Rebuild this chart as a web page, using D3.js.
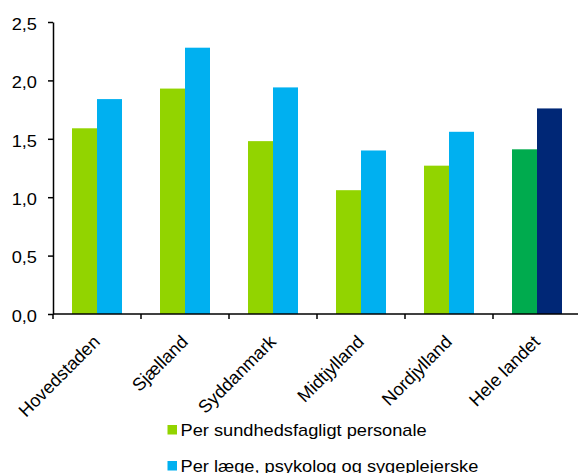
<!DOCTYPE html>
<html><head><meta charset="utf-8">
<script src="https://cdn.jsdelivr.net/npm/d3@7"></script>
<style>
body{margin:0;background:#fff;}
svg{display:block;font-family:"Liberation Sans",Arial,sans-serif;}
</style></head><body>
<svg id="c" width="578" height="473"></svg>
<script>
const categories = ["Hovedstaden","Sjælland","Syddanmark","Midtjylland","Nordjylland","Hele landet"];
const seriesNames = ["Per sundhedsfagligt personale","Per læge, psykolog og sygeplejerske"];
const sundhedsfagligt = [1.59,1.93,1.48,1.06,1.27,1.41];
const laegePsykSyg = [1.84,2.28,1.94,1.40,1.56,1.76];
const yTicks = [0,0.5,1.0,1.5,2.0,2.5];

const colA = "#92D400", colB = "#00B0F0", colAtot = "#00AB4E", colBtot = "#002776";
const SX = 1.14; // horizontal stretch of text in the reference
const FS = 16;

const svg = d3.select("#c");
const m = {left:53, top:22, bottom:314, right:581};
const x = d3.scaleBand().domain(categories).range([m.left, m.right]).paddingInner(0).paddingOuter(0);
const y = d3.scaleLinear().domain([0,2.5]).range([m.bottom, m.top]);

// bars
const barW = 25;
const gap = (x.bandwidth() - 2*barW)/2;
categories.forEach((c,i)=>{
  const tot = c==="Hele landet";
  svg.append("rect").attr("x", x(c)+gap).attr("y", y(sundhedsfagligt[i]))
    .attr("width", barW).attr("height", y(0)-y(sundhedsfagligt[i])).attr("fill", tot?colAtot:colA);
  svg.append("rect").attr("x", x(c)+gap+barW).attr("y", y(laegePsykSyg[i]))
    .attr("width", barW).attr("height", y(0)-y(laegePsykSyg[i])).attr("fill", tot?colBtot:colB);
});

// y axis
const ya = d3.axisLeft(y).tickValues(yTicks).tickSize(5).tickSizeOuter(0)
  .tickFormat(d=>d3.format(".1f")(d).replace(".",","));
const gy = svg.append("g").attr("transform",`translate(${m.left},0)`).call(ya);
gy.select(".domain").attr("stroke","#000").attr("stroke-width",1.5);
gy.selectAll(".tick line").attr("stroke","#000").attr("stroke-width",1.5);
gy.selectAll(".tick text").attr("font-size",FS+"px").attr("fill","#000")
  .attr("x",null).attr("dy",null)
  .attr("transform",`translate(-16,7.3) scale(${SX},1)`);

// x axis line and ticks at band boundaries
svg.append("line").attr("x1",m.left).attr("x2",m.right).attr("y1",y(0)).attr("y2",y(0))
  .attr("stroke","#000").attr("stroke-width",1.5);
categories.forEach(c=>{
  svg.append("line").attr("x1",x(c)).attr("x2",x(c)).attr("y1",y(0)).attr("y2",y(0)+5)
    .attr("stroke","#000").attr("stroke-width",1.5);
});
categories.forEach(c=>{
  const cx = x(c)+x.bandwidth()/2;
  svg.append("text").attr("transform",`translate(${cx+4},${y(0)+29}) rotate(-45)`)
    .attr("text-anchor","end").attr("font-size","18px").attr("fill","#000").text(c);
});

// legend
const legY = [425, 461];
seriesNames.forEach((n,i)=>{
  svg.append("rect").attr("x",167.5).attr("y",legY[i]).attr("width",9.5).attr("height",9.5)
    .attr("fill", i===0?colA:colB);
  svg.append("text").attr("transform",`translate(180.5,${legY[i]+10.8}) scale(${SX},1)`)
    .attr("font-size",FS+"px").attr("fill","#000").text(n);
});
</script>
</body></html>
